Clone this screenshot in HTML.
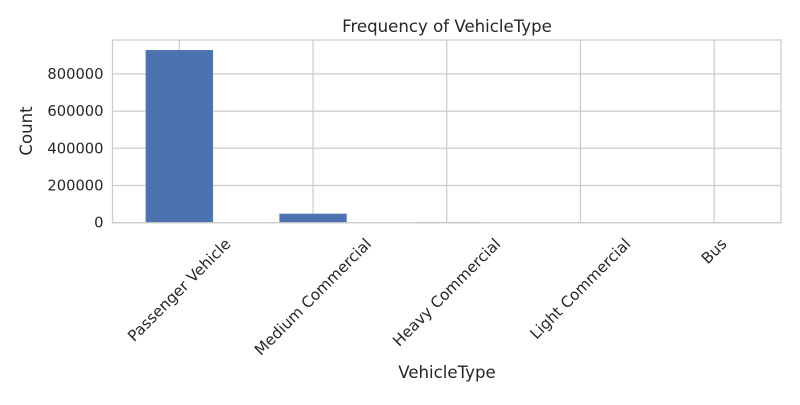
<!DOCTYPE html>
<html><head><meta charset="utf-8">
<style>
html,body{margin:0;padding:0;background:#fff;}
svg text{font-family:"DejaVu Sans","Liberation Sans",sans-serif;fill:#262626;}
</style></head>
<body>
<svg id="chart" width="800" height="400" xmlns="http://www.w3.org/2000/svg">
<rect width="800" height="400" fill="#fff"/>
<g id="grid"></g>
<g id="bars"></g>
<rect x="112.5" y="40" width="668.5" height="182.7" fill="none" stroke="#cccccc" stroke-width="1.25"/>
<g id="labels"></g>
<text x="447" y="32" text-anchor="middle" font-size="16.6">Frequency of VehicleType</text>
<text x="447" y="378" text-anchor="middle" font-size="16.6">VehicleType</text>
<text transform="translate(32,131) rotate(-90)" text-anchor="middle" font-size="16.6">Count</text>
</svg>
<script>
const categories = ["Passenger Vehicle","Medium Commercial","Heavy Commercial","Light Commercial","Bus"];
const counts = [927000, 47000, 1500, 800, 300];
const yTicks = [0, 200000, 400000, 600000, 800000];
const yTickLabels = ["0","200000","400000","600000","800000"];

const L=112.5, R=781, T=40, B=222.7;
const yMax = 200000*(B-T)/37.2;
const step=(R-L)/categories.length;
function xs(i){return L+step*(i+0.5);}
function ys(v){return B-(v/yMax)*(B-T);}
const NS="http://www.w3.org/2000/svg";
const grid=document.getElementById('grid'), bars=document.getElementById('bars'), labels=document.getElementById('labels');
function mk(tag,attrs,parent){const e=document.createElementNS(NS,tag);for(const k in attrs)e.setAttribute(k,attrs[k]);parent.appendChild(e);return e;}
yTicks.forEach((v,i)=>{
  const y=ys(v);
  const g=mk('line',{x1:L,x2:R,y1:y,y2:y,stroke:'#cccccc','stroke-width':1.25},grid);
  
  
  const t=mk('text',{x:L-9,y:y+5,'text-anchor':'end','font-size':14.7},labels);
  t.textContent=yTickLabels[i];
  
  
});
categories.forEach((c,i)=>{
  const x=xs(i);
  const g=mk('line',{x1:x,x2:x,y1:T,y2:B,stroke:'#cccccc','stroke-width':1.25},grid);
  
  
  const w=step*0.5;
  const b=mk('rect',{x:x-w/2,y:ys(counts[i]),width:w,height:B-ys(counts[i]),fill:'#4c72b0',stroke:'#5a7fbb','stroke-width':0.6},bars);
  
  
  const t=mk('text',{'text-anchor':'middle','font-size':15.3},labels);
  t.textContent=c;
  
  
  const len=t.getComputedTextLength();
  const half=(len*0.7071+15*0.7071)/2;
  const cy=236+half;
  t.setAttribute('transform','translate('+x+','+cy+') rotate(-45) translate(0,5)');
});
</script>
</body></html>
